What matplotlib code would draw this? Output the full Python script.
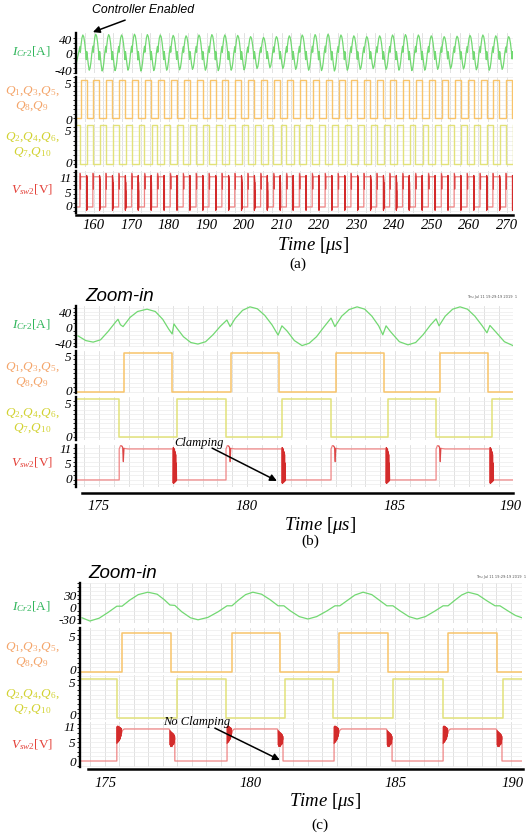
import numpy as np
import matplotlib.pyplot as plt
from matplotlib.ticker import MultipleLocator

plt.rcParams['font.family'] = ['Liberation Serif', 'DejaVu Serif']
plt.rcParams['mathtext.fontset'] = 'custom'
plt.rcParams['mathtext.rm'] = 'Liberation Serif'
plt.rcParams['mathtext.it'] = 'Liberation Serif:italic'

# ---------------- data (times in us) ----------------
# (a) full run 155-272 us
a_q1_rise = [156.40, 159.84, 163.28, 166.72, 170.16, 173.60, 177.04, 180.48, 183.92,
             187.36, 190.80, 194.24, 197.68, 201.12, 204.56, 208.00, 211.44, 214.88,
             218.32, 221.76, 225.20, 228.64, 232.08, 235.52, 238.96, 242.40, 245.84,
             249.28, 252.72, 256.16, 259.60, 263.04, 266.48, 269.92]
a_on = 1.60      # Q1 on-time
a_dead = 0.15    # dead time
a_ipk = [44, 46, 45, 44, 46, 45, 44, 43, 42, 44, 45, 44, 43, 40, 38, 40, 42, 44,
         45, 46, 44, 42, 40, 42, 44, 45, 44, 42, 40, 41, 43, 44, 42, 40]
a_itr = [-44, -46, -45, -44, -46, -45, -44, -43, -42, -44, -45, -44, -43, -40, -38, -40,
         -42, -44, -45, -46, -44, -42, -40, -42, -44, -45, -44, -42, -40, -41, -43, -44,
         -42, -40]
# one switching period of the tank current, read from (b): time from Q1 rise, share of peak
cyc_dt = [-0.14, -0.03, 0.14, 0.39, 0.64, 0.89, 1.14, 1.39, 1.59, 1.72, 1.89, 2.14,
          2.40, 2.64, 2.89, 3.14]
cyc_frac = [0.35, 0.02, 0.42, 0.83, 1.0, 0.9, 0.58, 0.1, -0.4, 0.06, -0.2, -0.67,
            -1.0, -0.88, -0.52, 0.0]
cyc_len = 3.55

# (b) zoom-in, with clamping
b_q1_rise = [175.84, 179.46, 183.01, 186.52]
b_q1_fall = [177.47, 181.08, 184.63, 188.14]
b_q2_rise = [177.64, 181.18, 184.76, 188.28]
b_q2_fall = [175.68, 179.29, 182.84, 186.39]
b_v_rise = [175.68, 179.29, 182.84, 186.39]
b_v_fall = [177.50, 181.18, 184.70, 188.21]
b_i_t = [174.29, 174.55, 174.80, 175.05, 175.30, 175.55, 175.64, 175.72, 175.81, 176.05,
         176.30, 176.62, 176.90, 177.15, 177.35, 177.47, 177.53, 177.62, 177.85, 178.10,
         178.34, 178.60, 178.85, 179.10, 179.32, 179.43, 179.60, 179.85, 180.10, 180.35,
         180.60, 180.85, 181.05, 181.18, 181.35, 181.60, 181.86, 182.10, 182.35, 182.60,
         182.84, 182.97, 183.20, 183.45, 183.72, 183.98, 184.22, 184.45, 184.59, 184.70,
         184.85, 185.15, 185.44, 185.70, 185.95, 186.20, 186.39, 186.49, 186.70, 186.95,
         187.20, 187.45, 187.70, 187.95, 188.11, 188.21, 188.40, 188.70, 188.99]
b_i_v = [-23, -35, -39, -33, -12, 12, 20, 6, 1, 25,
         40, 46, 40, 20, -5, -18, 8, -2, -25, -40,
         -44, -38, -20, 2, 18, 1, 22, 43, 52, 47,
         30, 5, -21, 3, -10, -35, -48, -42, -25, 0,
         23, 1, 28, 45, 52, 46, 28, 3, -20, 3,
         -12, -38, -46, -40, -20, 5, 21, 3, 28, 46,
         52, 46, 28, 3, -15, 4, -12, -38, -48]

# (c) zoom-in, no clamping
c_q1_rise = [175.59, 179.38, 183.07, 186.83]
c_q1_fall = [177.28, 181.03, 184.76, 188.52]
c_q2_rise = [177.48, 181.21, 184.93, 188.72]
c_q2_fall = [175.41, 179.17, 182.86, 186.66]
c_v_rise = [175.41, 179.21, 182.90, 186.66]
c_v_fall = [177.41, 181.14, 184.90, 188.69]
c_i_t = [174.21, 174.48, 174.80, 175.10, 175.41, 175.59, 175.85, 176.15, 176.48, 176.80,
         177.05, 177.24, 177.41, 177.65, 177.95, 178.21, 178.55, 178.90, 179.21, 179.38,
         179.60, 179.85, 180.10, 180.40, 180.70, 180.97, 181.17, 181.40, 181.70, 182.00,
         182.30, 182.65, 182.93, 183.10, 183.35, 183.62, 183.90, 184.20, 184.48, 184.72,
         184.93, 185.18, 185.48, 185.76, 186.05, 186.38, 186.66, 186.83, 187.05, 187.30,
         187.52, 187.85, 188.18, 188.45, 188.62, 188.90, 189.15, 189.38]
c_i_v = [-27, -35, -28, -14, 2, 2, 17, 31, 37, 32,
         18, 5, 4, -12, -27, -32, -26, -12, 3, 3,
         17, 31, 37, 32, 18, 3, 3, -10, -24, -30,
         -24, -10, 3, 3, 16, 30, 37, 31, 16, 3,
         3, -10, -24, -30, -24, -10, 3, 3, 16, 30,
         37, 31, 15, 3, 3, -10, -21, -27]

# switching-node shapes around an edge (offset us, volts)
clamp_r_dt = [0.0, 0.0, 0.05, 0.09, 0.12, 0.14, 0.16, 0.30]
clamp_r_v = [0.0, 11.0, 12.3, 12.0, 11.5, 6.5, 11.2, 11.0]
clamp_f_dt = [0.0, 0.0, 0.01, 0.02, 0.03, 0.04, 0.05, 0.06, 0.07, 0.08, 0.09, 0.10,
              0.11, 0.12, 0.15]
clamp_f_v = [11.0, -1.0, 11.5, -1.2, 11.2, -1.0, 10.8, -0.8, 10.0, -0.6, 9.0, -0.4,
             6.0, 0.0, 0.0]
free_r_dt = [0.0, 0.0, 0.01, 0.02, 0.03, 0.04, 0.05, 0.06, 0.07, 0.08, 0.09, 0.10,
             0.11, 0.12, 0.13, 0.14, 0.15, 0.16, 0.20, 0.26]
free_r_v = [0.0, 6.0, 11.8, 6.3, 12.0, 6.5, 11.9, 6.8, 11.8, 7.0, 11.6, 7.4, 11.5,
            7.8, 11.3, 8.5, 11.2, 9.5, 10.6, 11.0]
free_f_dt = [-0.20, -0.17, -0.16, -0.15, -0.14, -0.13, -0.12, -0.11, -0.10, -0.09,
             -0.08, -0.07, -0.06, -0.05, -0.04, -0.03, -0.02, -0.01, 0.0, 0.0]
free_f_v = [11.0, 10.5, 5.5, 10.2, 5.0, 10.0, 5.2, 9.8, 5.0, 9.6, 5.4, 9.5, 5.6, 9.2,
            5.8, 9.0, 6.2, 8.5, 7.5, 0.0]

C_I, C_Q1, C_Q2, C_V, C_VD = '#72d872', '#f8c46a', '#e2e27a', '#ef8585', '#cf1b1b'
L_I, L_Q1, L_Q2, L_V = '#2fb55a', '#f4a56a', '#d2d232', '#e4423a'


def pulses(rise, fall, t0, t1, hi=5.0):
    edges = sorted([(r, hi) for r in rise] + [(f, 0.0) for f in fall])
    lev = 0.0 if edges[0][1] == hi else hi
    t, v = [t0], [lev]
    for te, new in edges:
        t += [te, te]
        v += [v[-1], new]
    t.append(t1)
    v.append(v[-1])
    return t, v


def vsw(rise, fall, t0, t1, rdt, rv, fdt, fv, hi=11.0):
    edges = sorted([(r, 0) for r in rise] + [(f, 1) for f in fall])
    lev = hi if edges[0][1] == 1 else 0.0
    t, v = [t0], [lev]
    for te, kind in edges:
        dts, vs = (rdt, rv) if kind == 0 else (fdt, fv)
        t += [te + d for d in dts]
        v += list(vs)
    t.append(t1)
    v.append(v[-1])
    return t, v


def draw_vsw(ax, rise, fall, xl, rdt, rv, fdt, fv, dark_rise):
    ax.plot(*vsw(rise, fall, *xl, rdt, rv, fdt, fv), color=C_V, lw=0.9)
    # ringing bursts come out darker where the trace folds over itself
    for f in fall:
        ax.plot([f + d for d in fdt[1:-1]], fv[1:-1], color=C_VD, lw=0.7, alpha=0.85)
    if dark_rise:
        for r in rise:
            ax.plot([r + d for d in rdt[1:-2]], rv[1:-2], color=C_VD, lw=0.7, alpha=0.85)
    else:
        for r in rise:
            ax.plot([r + d for d in rdt[3:7]], rv[3:7], color=C_VD, lw=0.7, alpha=0.6)


W, H = 526, 836
fig = plt.figure(figsize=(W / 100, H / 100), dpi=100)


def add_ax(x0, x1, y0, y1):
    return fig.add_axes([x0 / W, 1 - y1 / H, (x1 - x0) / W, (y1 - y0) / H])


def ftext(x, y, s, **kw):
    fig.text(x / W, 1 - y / H, s, **kw)


def style(ax, xlim, ylim, ypos, ylab, vstep, hstep):
    ax.set_xlim(xlim)
    ax.set_ylim(ylim)
    for s in ['top', 'right', 'bottom']:
        ax.spines[s].set_visible(False)
    ax.spines['left'].set_linewidth(1.7)
    ax.set_yticks(ypos)
    ax.set_yticklabels(ylab, fontstyle='italic', fontsize=9.5)
    ax.tick_params(axis='y', length=0, pad=3)
    ax.tick_params(axis='x', length=0, labelbottom=False)
    ax.xaxis.set_major_locator(MultipleLocator(vstep))
    ax.yaxis.set_minor_locator(MultipleLocator(hstep))
    ax.grid(axis='x', which='major', color='#dcdcdc', lw=0.6)
    ax.grid(axis='y', which='minor', color='#ececec', lw=0.5)
    ax.set_axisbelow(True)


def xaxis(x0, x1, y, xlim, ticks, labels, pad):
    ax = add_ax(x0, x1, y - 1, y)
    ax.set_xlim(xlim)
    ax.set_yticks([])
    for s in ['top', 'right', 'left']:
        ax.spines[s].set_visible(False)
    ax.spines['bottom'].set_linewidth(1.8)
    ax.set_xticks(ticks)
    ax.set_xticklabels(labels, fontstyle='italic', fontsize=10.5)
    ax.tick_params(axis='x', length=0, pad=pad)
    ax.patch.set_alpha(0)


def side_labels(ys, xc=31):
    ftext(xc, ys[0], r'$I_{Cr2}$[A]', color=L_I, fontsize=9.5, ha='center', va='center')
    ftext(xc + 1, ys[1], '$Q_1$,$Q_3$,$Q_5$,\n$Q_8$,$Q_9$', color=L_Q1, fontsize=9.5,
          ha='center', va='center', linespacing=1.2)
    ftext(xc + 1, ys[2], '$Q_2$,$Q_4$,$Q_6$,\n$Q_7$,$Q_{10}$', color=L_Q2, fontsize=9.5,
          ha='center', va='center', linespacing=1.2)
    ftext(xc + 1, ys[3], r'$V_{sw2}$[V]', color=L_V, fontsize=9.5, ha='center',
          va='center')


def arrow(ax, head, tail):
    ax.annotate('', xy=head, xytext=tail, annotation_clip=False,
                arrowprops=dict(arrowstyle='-|>', color='black', lw=1.1,
                                shrinkA=0, shrinkB=0, mutation_scale=10))


# ---------------- panel (a) ----------------
xa = (155.2, 271.7)
a_q1_fall = [r + a_on for r in a_q1_rise]
a_q2_rise = [f + a_dead for f in a_q1_fall]
a_q2_fall = [r - a_dead for r in a_q1_rise]
ai_t, ai_v = [xa[0]], [-30]
for k, r in enumerate(a_q1_rise):
    per = a_q1_rise[k + 1] - r if k + 1 < len(a_q1_rise) else r - a_q1_rise[k - 1]
    for d, fr in zip(cyc_dt, cyc_frac):
        ai_t.append(r + d * per / cyc_len)
        ai_v.append(fr * a_ipk[k] if fr >= 0 else -fr * a_itr[k])

ax = add_ax(76, 513, 33, 73)
style(ax, xa, (-51, 49), [33.75, -1.25, -43.75], ['40', '0', '-40'], 2.5, 12.5)
ax.plot(ai_t, ai_v, color=C_I, lw=0.9)
arrow(ax, (159.7, 51.2), (168.3, 81.2))
ax.text(173.1, 106, 'Controller Enabled', fontsize=8.8, fontstyle='italic',
        family='Liberation Sans', ha='center', va='center')
ax = add_ax(76, 513, 77, 122)
style(ax, xa, (-0.48, 5.4), [4.6, -0.1], ['5', '0'], 2.5, 0.6)
ax.plot(*pulses(a_q1_rise, a_q1_fall, *xa), color=C_Q1, lw=1.0)
ax = add_ax(76, 513, 124, 167)
style(ax, xa, (-0.34, 5.13), [4.36, 0.17], ['5', '0'], 2.5, 0.6)
ax.plot(*pulses(a_q2_rise, a_q2_fall, *xa), color=C_Q2, lw=1.0)
ax = add_ax(76, 513, 171, 213)
style(ax, xa, (-2.2, 13.1), [10.9, 5.35, 0.36], ['11', '5', '0'], 2.5, 1.6)
draw_vsw(ax, a_q2_fall, [f + 0.03 for f in a_q1_fall], xa,
         clamp_r_dt, clamp_r_v, clamp_f_dt, clamp_f_v, False)
xaxis(76, 513, 215, xa, list(range(160, 271, 10)),
      [str(v) for v in range(160, 271, 10)], 3)
side_labels([52, 99, 145, 190])
ftext(313, 246, r'$Time$ [$\mu s$]', fontsize=13.5, ha='center', va='center')
ftext(298, 264, '(a)', fontsize=11, ha='center', va='center')

# ---------------- panel (b) ----------------
xb = (174.22, 188.99)
ftext(85, 296, 'Zoom-in', fontsize=13.5, fontstyle='italic', family='Liberation Sans',
      va='center')
ftext(517, 297, 'Thu Jul 11 19:29:19 2019  1', fontsize=2.6, family='DejaVu Sans',
      color='#555555', ha='right', va='center')
ax = add_ax(76, 513, 306, 347)
style(ax, xb, (-51.6, 54.2), [38.7, 0, -41.3], ['40', '0', '-40'], 0.5, 10)
ax.plot(b_i_t, b_i_v, color=C_I, lw=0.9)
ax = add_ax(76, 513, 351, 393)
style(ax, xb, (-0.15, 5.26), [4.6, 0.13], ['5', '0'], 0.5, 0.6)
ax.plot(*pulses(b_q1_rise, b_q1_fall, *xb), color=C_Q1, lw=1.1)
ax = add_ax(76, 513, 397, 440)
style(ax, xb, (-0.39, 5.26), [4.47, 0.13], ['5', '0'], 0.5, 0.6)
ax.plot(*pulses(b_q2_rise, b_q2_fall, *xb), color=C_Q2, lw=1.1)
ax = add_ax(76, 513, 445, 487)
style(ax, xb, (-2.5, 12.4), [11, 5.67, 0.35], ['11', '5', '0'], 0.5, 1.6)
draw_vsw(ax, b_v_rise, b_v_fall, xb, clamp_r_dt, clamp_r_v, clamp_f_dt, clamp_f_v, False)
arrow(ax, (181.01, -0.35), (178.82, 11.3))
ax.text(178.38, 13.1, 'Clamping', fontsize=9, fontstyle='italic', ha='center',
        va='center')
xaxis(82, 513, 493, (174.43, 188.99), [175, 180, 185, 188.9],
      ['175', '180', '185', '190'], 5)
side_labels([325, 375, 421, 463])
ftext(320, 525, r'$Time$ [$\mu s$]', fontsize=13.5, ha='center', va='center')
ftext(310, 541, '(b)', fontsize=11, ha='center', va='center')

# ---------------- panel (c) ----------------
xc = (174.14, 189.38)
ftext(88, 573, 'Zoom-in', fontsize=13.5, fontstyle='italic', family='Liberation Sans',
      va='center')
ftext(526, 577, 'Thu Jul 11 19:29:19 2019  1', fontsize=2.6, family='DejaVu Sans',
      color='#555555', ha='right', va='center')
ax = add_ax(80, 522, 583, 623)
style(ax, xc, (-40, 60), [27.5, 0, -32.5], ['30', '0', '-30'], 0.5, 10)
ax.plot(c_i_t, c_i_v, color=C_I, lw=0.9)
ax = add_ax(80, 522, 628, 673)
style(ax, xc, (-0.13, 5.64), [4.6, 0.38], ['5', '0'], 0.5, 0.6)
ax.plot(*pulses(c_q1_rise, c_q1_fall, *xc), color=C_Q1, lw=1.1)
ax = add_ax(80, 522, 675, 720)
style(ax, xc, (-0.26, 5.5), [4.5, 0.5], ['5', '0'], 0.5, 0.6)
ax.plot(*pulses(c_q2_rise, c_q2_fall, *xc), color=C_Q2, lw=1.1)
ax = add_ax(80, 522, 722, 767)
style(ax, xc, (-2.06, 13.4), [11.7, 6.2, 0], ['11', '5', '0'], 0.5, 1.6)
draw_vsw(ax, c_v_rise, c_v_fall, xc, free_r_dt, free_r_v, free_f_dt, free_f_v, True)
arrow(ax, (181.03, 0.34), (178.79, 11.3))
ax.text(178.17, 13.4, 'No Clamping', fontsize=9, fontstyle='italic', ha='center',
        va='center')
xaxis(88, 523, 769, (174.41, 189.41), [175, 180, 185, 189.05],
      ['175', '180', '185', '190'], 6)
side_labels([607, 655, 702, 745])
ftext(325, 802, r'$Time$ [$\mu s$]', fontsize=13.5, ha='center', va='center')
ftext(320, 825, '(c)', fontsize=11, ha='center', va='center')

fig.savefig('out.png', dpi=100)
